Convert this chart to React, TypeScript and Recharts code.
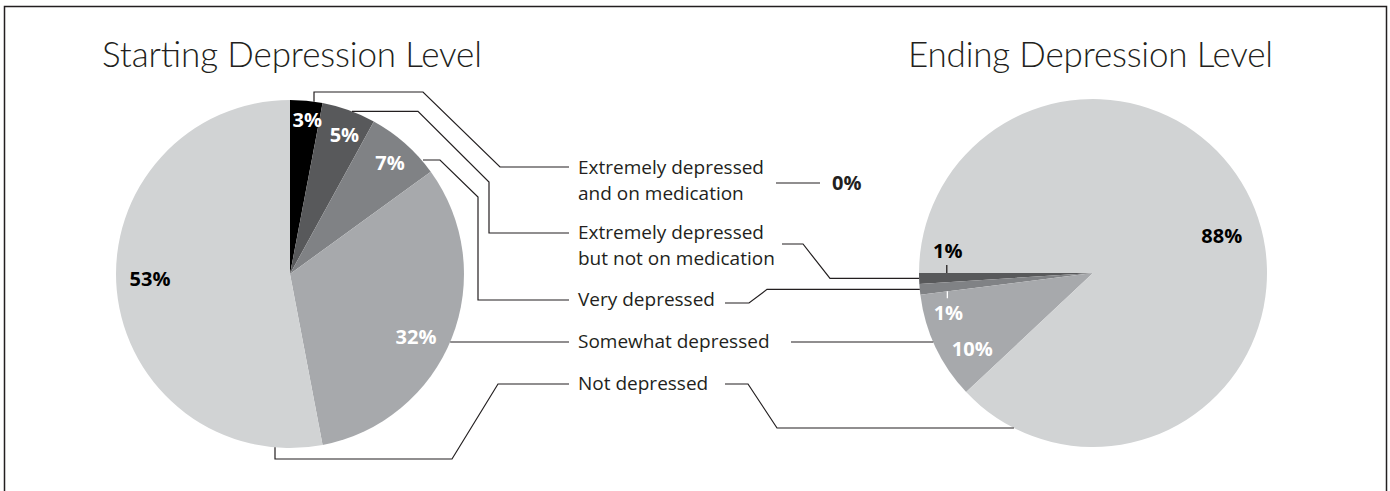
import React from "react";
import { PieChart, Pie, Cell } from "recharts";

const levels = [
  "Extremely depressed and on medication",
  "Extremely depressed but not on medication",
  "Very depressed",
  "Somewhat depressed",
  "Not depressed",
];
const legendLines = [
  ["Extremely depressed", "and on medication"],
  ["Extremely depressed", "but not on medication"],
  ["Very depressed"],
  ["Somewhat depressed"],
  ["Not depressed"],
];
const startValues = [3, 5, 7, 32, 53];
const endValues = [0, 1, 1, 10, 88];

const sliceColors = ["#000000", "#58595b", "#808285", "#a7a9ac", "#d1d3d4"];
const startLabelFill = ["#fff", "#fff", "#fff", "#fff", "#000"];
const endLabelFill = ["#000", "#000", "#fff", "#fff", "#000"];
// label placement: fraction of radius and angle nudge (deg) per slice
const startLabelRadius = [0.89, 0.86, 0.86, 0.81, 0.805];
const startLabelShift = [-1, -1.5, -0.5, -5, -3.5];
const endLabelRadius = [0, 0.835, 0.835, 0.82, 0.77];
const endLabelShift = [0, 0, 0, 7, -5.5];

const W = 1390;
const H = 491;
const R = 174;
const LCX = 290;
const LCY = 274;
const RCX = 1093;
const RCY = 273;
const FONT = "'Open Sans', 'Noto Sans', sans-serif";
const TITLE_FONT = "Lato, 'Open Sans', sans-serif";
const INK = "#231f20";
const RADIAN = Math.PI / 180;

function polar(cx: number, cy: number, r: number, angle: number) {
  return { x: cx + r * Math.cos(-angle * RADIAN), y: cy + r * Math.sin(-angle * RADIAN) };
}

// mid angle of slice i, recharts convention
function midAngle(values: number[], i: number, start: number, dir: number) {
  const total = values.reduce((a, b) => a + b, 0);
  const before = values.slice(0, i).reduce((a, b) => a + b, 0);
  return start + dir * ((before + values[i] / 2) / total) * 360;
}

const pct = (v: number) => `${v}%`;

function renderStartLabel(props: any) {
  const { cx, cy, outerRadius, midAngle: mid, index, value } = props;
  const p = polar(cx, cy, outerRadius * startLabelRadius[index], mid + startLabelShift[index]);
  return (
    <text
      key={`sl-${index}`}
      x={p.x}
      y={p.y + 7}
      textAnchor="middle"
      fill={startLabelFill[index]}
      fontFamily={FONT}
      fontWeight={700}
      fontSize={20}
    >
      {pct(value)}
    </text>
  );
}

function renderEndLabel(props: any) {
  const { cx, cy, outerRadius, midAngle: mid, index, value } = props;
  if (!value) return null;
  const p = polar(cx, cy, outerRadius * endLabelRadius[index], mid + endLabelShift[index]);
  const common = {
    textAnchor: "middle" as const,
    fill: endLabelFill[index],
    fontFamily: FONT,
    fontWeight: 700,
    fontSize: 20,
  };
  if (value < 5) {
    // thin slices: label pulled above / below with a short tick
    const above = index === 1;
    const edgeAngle = above ? 180 : 180 + (2 / 100) * 360;
    const edgeY = cy + (cx - p.x) * Math.tan((edgeAngle - 180) * RADIAN);
    return (
      <g key={`el-${index}`}>
        <line
          x1={p.x - 1}
          x2={p.x - 1}
          y1={above ? edgeY - 8 : edgeY}
          y2={above ? edgeY : edgeY + 7}
          stroke={above ? INK : "#fff"}
          strokeWidth={1.3}
        />
        <text {...common} x={p.x} y={(above ? cy - 22 : cy + 40) + 7}>
          {pct(value)}
        </text>
      </g>
    );
  }
  return (
    <text key={`el-${index}`} {...common} x={p.x} y={p.y + 7}>
      {pct(value)}
    </text>
  );
}

export default function App() {
  const startData = levels.map((name, i) => ({ name, value: startValues[i] }));
  const endData = levels.map((name, i) => ({ name, value: endValues[i] }));

  const topEdge = (x: number) => LCY - Math.sqrt(R * R - (x - LCX) * (x - LCX));
  const botEdge = (x: number) => LCY + Math.sqrt(R * R - (x - LCX) * (x - LCX));
  const lRight = (y: number) => LCX + Math.sqrt(R * R - (y - LCY) * (y - LCY));
  const rLeft = (y: number) => RCX - Math.sqrt(R * R - (y - RCY) * (y - RCY));

  const a1 = polar(RCX, RCY, R, midAngle(endValues, 1, 180, 1));
  const a2 = polar(RCX, RCY, R, midAngle(endValues, 2, 180, 1));

  const rowY = [168, 233, 300, 342, 384];
  const textX = 578;

  const leftLeaders = [
    [[314, topEdge(314)], [314, 92], [423, 92], [500, 167], [569, 167]],
    [[352, topEdge(352)], [418, topEdge(352)], [489, 182], [489, 233], [569, 233]],
    [[423, 160], [440, 160], [478, 197], [478, 300], [569, 300]],
    [[lRight(342), 342], [569, 342]],
    [[275, botEdge(275)], [275, 459], [452, 459], [498, 384], [569, 384]],
  ];
  const rightLeaders = [
    [[776, 183], [820, 183]],
    [[782, 244], [803, 244], [830, a1.y], [a1.x, a1.y]],
    [[725, 303], [749, 303], [767, a2.y], [a2.x, a2.y]],
    [[791, 342], [rLeft(342), 342]],
    [[725, 384], [748, 384], [777, 428], [rLeft(428), 428]],
  ];

  return (
    <div style={{ position: "absolute", left: 0, top: 0, width: W, height: H, background: "#fff" }}>
      <PieChart width={W} height={H} margin={{ top: 0, right: 0, bottom: 0, left: 0 }}>
        <Pie
          data={startData}
          dataKey="value"
          cx={LCX}
          cy={LCY}
          outerRadius={R}
          startAngle={90}
          endAngle={-270}
          stroke="none"
          label={renderStartLabel}
          labelLine={false}
          isAnimationActive={false}
        >
          {startData.map((d, i) => (
            <Cell key={d.name} fill={sliceColors[i]} />
          ))}
        </Pie>
        <Pie
          data={endData}
          dataKey="value"
          cx={RCX}
          cy={RCY}
          outerRadius={R}
          startAngle={180}
          endAngle={540}
          stroke="none"
          label={renderEndLabel}
          labelLine={false}
          isAnimationActive={false}
        >
          {endData.map((d, i) => (
            <Cell key={d.name} fill={sliceColors[i]} />
          ))}
        </Pie>
      </PieChart>

      <svg
        width={W}
        height={H}
        style={{ position: "absolute", left: 0, top: 0, pointerEvents: "none" }}
        fontFamily={FONT}
      >
        <rect x={4.5} y={6.5} width={1382} height={520} fill="none" stroke={INK} strokeWidth={1.5} />
        <text
          x={102}
          y={67}
          fontSize={35}
          fontWeight={300}
          fill={INK}
          fontFamily={TITLE_FONT}
          textLength={380}
          lengthAdjust="spacing"
        >
          Starting Depression Level
        </text>
        <text
          x={908}
          y={67}
          fontSize={35}
          fontWeight={300}
          fill={INK}
          fontFamily={TITLE_FONT}
          textLength={365}
          lengthAdjust="spacing"
        >
          Ending Depression Level
        </text>

        {[...leftLeaders, ...rightLeaders].map((pts, i) => (
          <polyline
            key={i}
            points={pts.map((p) => p.join(",")).join(" ")}
            fill="none"
            stroke={INK}
            strokeWidth={1.2}
          />
        ))}

        {legendLines.map((lines, i) =>
          lines.map((t, j) => (
            <text key={`${i}-${j}`} x={textX} y={rowY[i] + 6 + j * 26} fontSize={19} fill={INK}>
              {t}
            </text>
          ))
        )}
        <text x={832} y={190} fontSize={20} fontWeight={700} fill={INK}>
          {pct(endValues[0])}
        </text>
      </svg>
    </div>
  );
}
